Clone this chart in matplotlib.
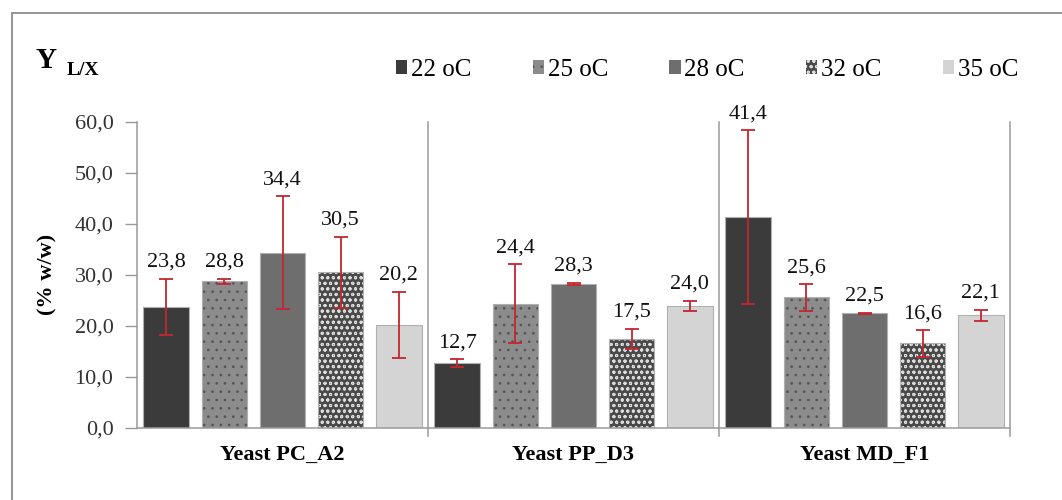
import matplotlib.pyplot as plt
from matplotlib.patches import Rectangle, Patch

# datos
yeasts = ["Yeast PC_A2", "Yeast PP_D3", "Yeast MD_F1"]
temps = ["22 oC", "25 oC", "28 oC", "32 oC", "35 oC"]
y22 = [23.8, 12.7, 41.4]
y25 = [28.8, 24.4, 25.6]
y28 = [34.4, 28.3, 22.5]
y32 = [30.5, 17.5, 16.6]
y35 = [20.2, 24.0, 22.1]
e22 = [5.5, 0.8, 17.0]
e25 = [0.5, 7.7, 2.6]
e28 = [11.0, 0.2, 0.1]
e32 = [7.0, 2.0, 2.6]
e35 = [6.5, 1.0, 1.1]
yticks = [0, 10, 20, 30, 40, 50, 60]

series = [y22, y25, y28, y32, y35]
errors = [e22, e25, e28, e32, e35]
faces = ["#3b3b3b", "#8c8c8c", "#6e6e6e", "#4a4a4a", "#d4d4d4"]
hatch_cols = ["#3b3b3b", "#555555", "#6e6e6e", "#dcdcdc", "#d4d4d4"]
hatches = [None, "..", None, "ooo", None]

plt.rcParams["font.family"] = ["Liberation Serif", "DejaVu Serif"]
plt.rcParams["hatch.linewidth"] = 0.7

fig = plt.figure(figsize=(10.62, 5.0), dpi=100)
# marco exterior
fig.patches.append(Rectangle((12 / 1062, -0.1), 1.2, 1.1 - 13 / 500,
                             transform=fig.transFigure, fill=False,
                             edgecolor="#8c8c8c", linewidth=1.3))

ax = fig.add_axes([137 / 1062, 1 - 428 / 500, (1010 - 137) / 1062, (428 - 122) / 500])

slot = 0.2
width = 0.156
for j in range(5):
    xs = [i + (j - 2) * slot for i in range(3)]
    ax.bar(xs, series[j], width, color=faces[j], edgecolor=hatch_cols[j],
           hatch=hatches[j], linewidth=0, zorder=2)
    # borde claro tipo bisel
    ax.bar(xs, series[j], width, fill=False, edgecolor="#b0b0b0", linewidth=0.8, zorder=2)
    ax.errorbar(xs, series[j], yerr=errors[j], fmt="none", ecolor="#c4262e",
                elinewidth=1.3, capsize=5, capthick=1.3, zorder=3)
    for x, v, e in zip(xs, series[j], errors[j]):
        ax.annotate(f"{v:.1f}".replace(".", ","), (x, v + e), xytext=(0, 5),
                    textcoords="offset points", ha="center", va="bottom",
                    fontsize=16, color="#111111", zorder=4)

# separadores entre grupos
for xv in [0.5, 1.5, 2.5]:
    ax.plot([xv, xv], [-1.5, 60], color="#9a9a9a", lw=1.1, clip_on=False, zorder=1)

ax.set_xlim(-0.5, 2.5)
ax.set_ylim(0, 60)
ax.set_yticks(yticks)
ax.set_yticklabels([f"{t:.1f}".replace(".", ",") for t in yticks], fontsize=16, color="#333333")
ax.set_xticks(range(3))
ax.set_xticklabels(yeasts, fontsize=16, fontweight="bold")
ax.tick_params(axis="x", length=0, pad=12)
ax.tick_params(axis="y", length=9, width=1, color="#9a9a9a", pad=8)
for s in ["top", "right"]:
    ax.spines[s].set_visible(False)
for s in ["left", "bottom"]:
    ax.spines[s].set_color("#9a9a9a")
    ax.spines[s].set_linewidth(1.1)

# titulo y eje y
fig.text(35 / 1062, 1 - 68 / 500, "Y", fontsize=21, fontweight="bold", va="baseline")
fig.text(67 / 1062, 1 - 75 / 500, "L/X", fontsize=14, fontweight="bold", va="baseline")
fig.text(47 / 1062, 1 - 274 / 500, "(% w/w)", fontsize=16, fontweight="bold",
         rotation=90, ha="center", va="center")

handles = [Patch(facecolor=faces[j], edgecolor=hatch_cols[j], hatch=hatches[j], linewidth=0)
           for j in range(5)]
fig.legend(handles, temps, loc="center left", bbox_to_anchor=(396 / 1062, 1 - 70 / 500),
           ncol=5, frameon=False, fontsize=18, handlelength=0.45, handleheight=0.45,
           handletextpad=0.15, columnspacing=2.45, borderpad=0, borderaxespad=0)

plt.savefig("out.png", dpi=100)
plt.close()
